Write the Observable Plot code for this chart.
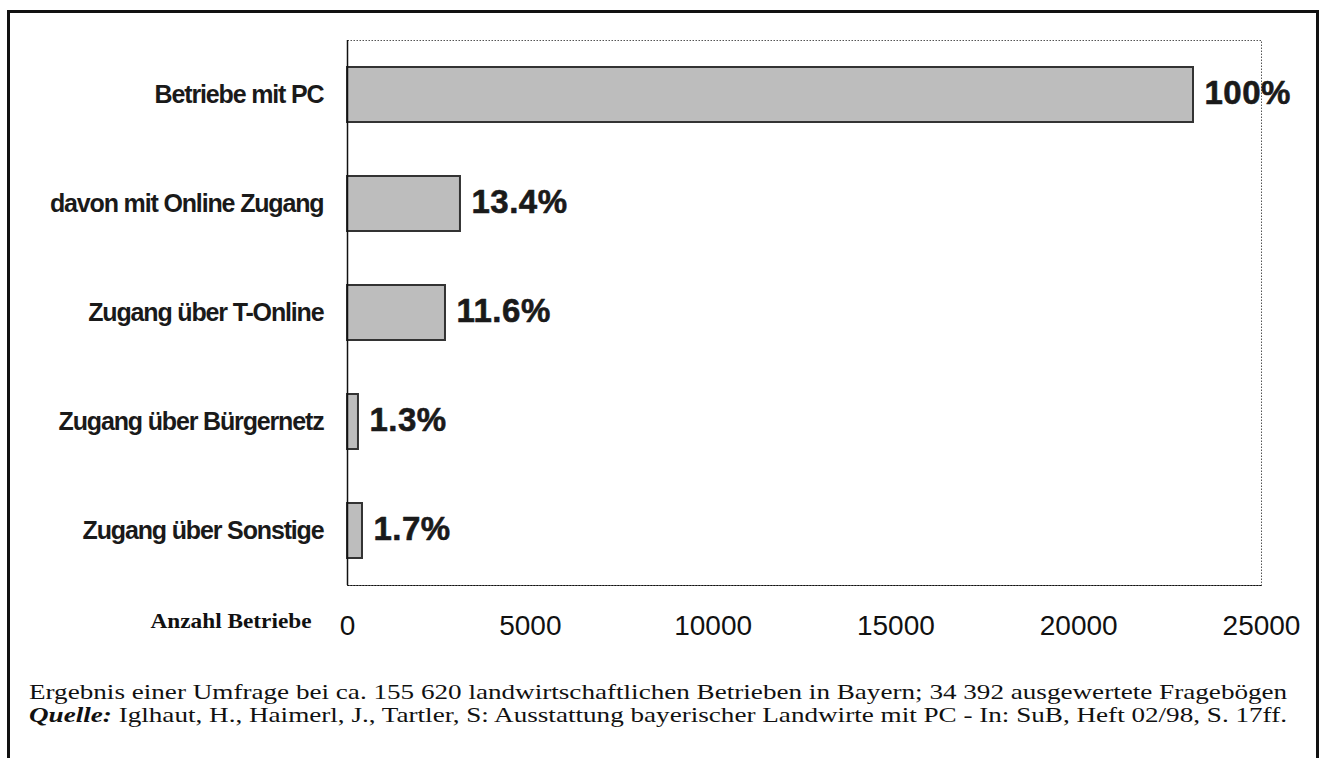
<!DOCTYPE html>
<html>
<head>
<meta charset="utf-8">
<script src="https://cdn.jsdelivr.net/npm/d3@7"></script>
<script src="https://cdn.jsdelivr.net/npm/@observablehq/plot@0.6"></script>
<style>
  html, body { margin: 0; padding: 0; background: #fff; width: 1325px; height: 758px; overflow: hidden; }
  #box { position: absolute; left: 7px; top: 10px; width: 1312px; height: 800px; border: 3px solid #111; box-sizing: border-box; }
  #chart { position: absolute; left: 0; top: 0; }
  #note { position: absolute; left: 29px; top: 680px; font-family: "Liberation Serif", "Times New Roman", serif; font-size: 22px; line-height: 23px; color: #111; white-space: nowrap; transform: scaleX(1.233); transform-origin: 0 0; }
</style>
</head>
<body>
<div id="box"></div>
<div id="chart"></div>
<div id="note"></div>
<script>
const categories = ["Betriebe mit PC", "davon mit Online Zugang", "Zugang über T-Online", "Zugang über Bürgernetz", "Zugang über Sonstige"];
const counts = [23140, 3090, 2680, 300, 410];
const shares = ["100%", "13.4%", "11.6%", "1.3%", "1.7%"];
const xTicks = [0, 5000, 10000, 15000, 20000, 25000];
const xLabel = "Anzahl Betriebe";
const noteLine = "Ergebnis einer Umfrage bei ca. 155 620 landwirtschaftlichen Betrieben in Bayern; 34 392 ausgewertete Fragebögen";
const sourceLabel = "Quelle:";
const sourceText = " Iglhaut, H., Haimerl, J., Tartler, S: Ausstattung bayerischer Landwirte mit PC - In: SuB, Heft 02/98, S. 17ff.";

const data = categories.map((c, i) => ({cat: c, count: counts[i], share: shares[i]}));

const chart = Plot.plot({
  width: 1325,
  height: 650,
  marginLeft: 347,
  marginRight: 64,
  marginTop: 40,
  marginBottom: 65,
  style: {fontFamily: "Liberation Sans, Arial, sans-serif", fontSize: "28px", background: "transparent", color: "#111"},
  x: {domain: [0, 25000], ticks: xTicks, tickFormat: d => String(d), tickSize: 0, tickPadding: 30, line: true, label: null},
  y: {domain: categories, paddingInner: 0.5, paddingOuter: 0.25, axis: null},
  marks: [
    Plot.frame({stroke: "#555", strokeDasharray: "1.5,1.5", strokeWidth: 1}),
    Plot.barX(data, {x: "count", y: "cat", fill: "#bdbdbd", stroke: "#333", strokeWidth: 2}),
    Plot.ruleX([0], {stroke: "#111", strokeWidth: 1.5}),
    Plot.text(data, {x: "count", y: "cat", text: "share", textAnchor: "start", dx: 11, dy: -2, fontSize: 33, fontWeight: "bold", fill: "#1a1a1a", stroke: "#1a1a1a", strokeWidth: 0.6}),
    Plot.text(data, {x: 0, y: "cat", text: "cat", textAnchor: "end", dx: -24, fontSize: 25, fontWeight: "bold", fill: "#1a1a1a"}),
    Plot.text([xLabel], {frameAnchor: "bottom-left", text: d => d, dx: -36, dy: 42, textAnchor: "end", fontFamily: "Liberation Serif, Times New Roman, serif", fontWeight: "bold", fontSize: 21, fill: "#111"})
  ]
});
chart.querySelectorAll("text").forEach(t => {
  const holder = t.closest("[font-size]");
  const fs = t.getAttribute("font-size") || (holder ? holder.getAttribute("font-size") : null);
  if (fs === "25") t.style.letterSpacing = "-1.15px";
  if (fs === "33") t.style.letterSpacing = "0.5px";
  if (t.textContent === xLabel) { t.setAttribute("textLength", "161"); t.setAttribute("lengthAdjust", "spacingAndGlyphs"); }
});
document.getElementById("chart").appendChild(chart);

const note = document.getElementById("note");
const l1 = document.createElement("div");
l1.textContent = noteLine;
const l2 = document.createElement("div");
const b = document.createElement("b");
b.innerHTML = "<i></i>";
b.firstChild.textContent = sourceLabel;
l2.appendChild(b);
l2.appendChild(document.createTextNode(sourceText));
note.appendChild(l1);
note.appendChild(l2);
</script>
</body>
</html>
